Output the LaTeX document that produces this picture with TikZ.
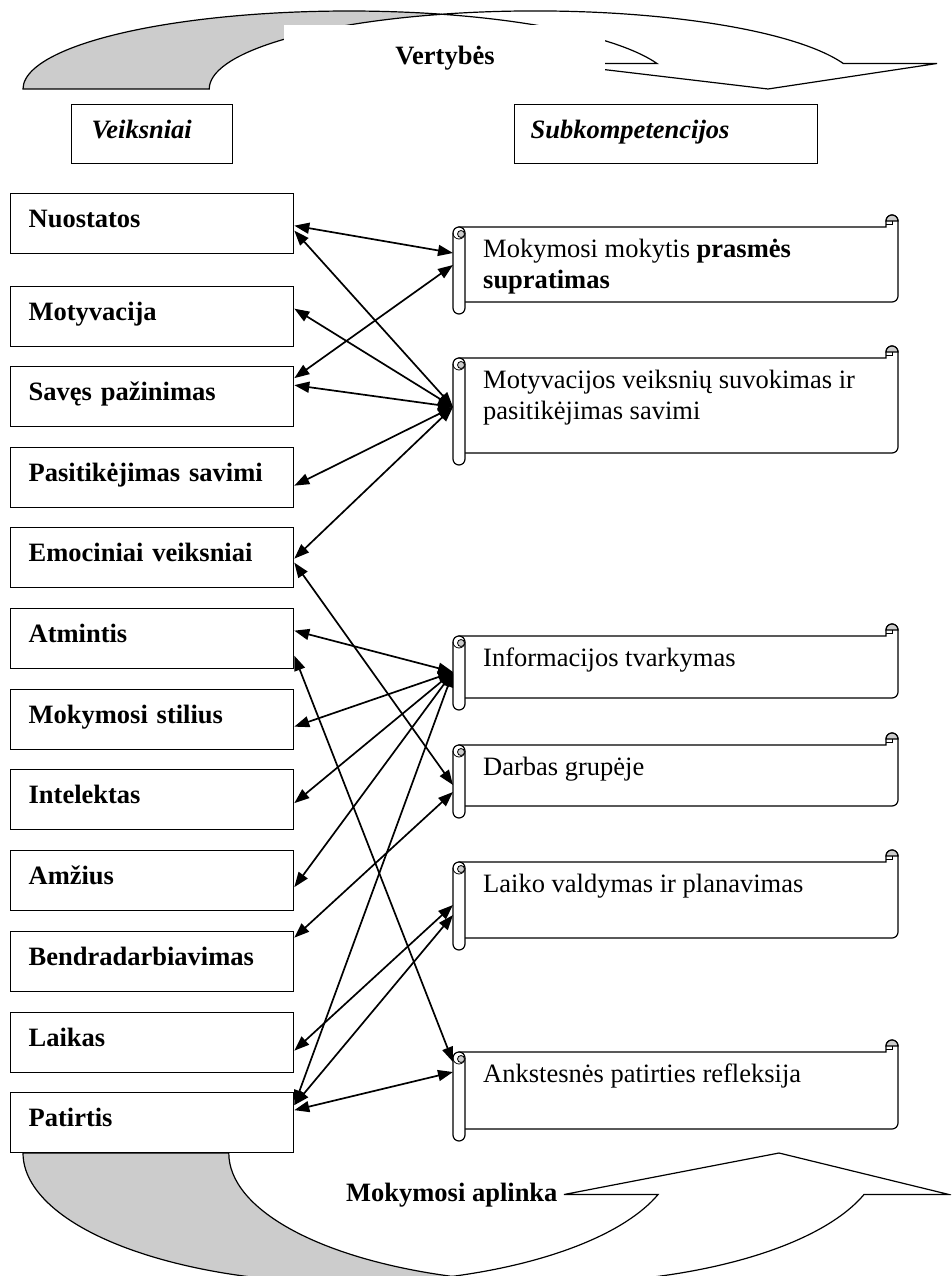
\documentclass[tikz,border=0pt]{standalone}
\usepackage{fontspec}
\setmainfont{Liberation Serif}
\usetikzlibrary{arrows.meta,calc}

\definecolor{rollgrey}{RGB}{204,204,204}

\tikzset{
  outline/.style={line width=1.2pt},
  lbox/.style={draw, line width=1.3pt, fill=white, anchor=north west,
    text width=247pt, inner xsep=18pt, inner ysep=0pt, minimum height=60pt,
    text height=18pt, text depth=10pt, align=left},
  hbox/.style={draw, line width=1.3pt, fill=white, anchor=north west,
    inner ysep=0pt, minimum height=59pt, text height=18pt, text depth=10pt, align=left},
  stext/.style={anchor=north west, inner sep=0pt, align=left},
  link/.style={line width=1.7pt,
    {Triangle[length=15pt,width=11pt]}-{Triangle[length=15pt,width=11pt]}},
}

% horizontal scroll: #1 name, #2 top edge, #3 bottom edge, #4 text
\newcommand\drawscroll[4]{%
  \draw[outline, fill=white] (459,#2) -- (886,#2) -- (886,{#2-6})
     arc[start angle=180, end angle=360, radius=6] -- (898,{#3-6})
     arc[start angle=0, end angle=90, radius=6] -- (459,#3) -- cycle;
  \draw[outline, fill=rollgrey] (886,{#2-6}) arc[start angle=180, end angle=360, radius=6] -- cycle;
  \draw[line width=0.8pt] (886,{#2-3}) -- (892,{#2-3}) -- (892,{#2-6});
  \draw[outline, fill=white] (453,{#2+6}) -- (453,{#3+6})
     arc[start angle=180, end angle=0, radius=6] -- (465,{#2+6})
     arc[start angle=0, end angle=-180, radius=6] -- cycle;
  \draw[line width=0.8pt] (465,{#2+6}) arc[start angle=0, end angle=180, radius=6];
  \draw[line width=0.8pt, fill=rollgrey] (461,{#2+7}) circle[radius=3.5];
  \coordinate (#1roll) at (453,#2);
  \node[stext] (#1) at (483,{#2+30-18.1}) {#4};
}

\begin{document}
\begin{tikzpicture}[x=1pt, y=-1pt,
  every node/.append style={font=\fontsize{26.5pt}{31pt}\selectfont}]
\useasboundingbox (0,0) rectangle (951,1276);
\clip (0,0) rectangle (951,1276);

% values band over the top, arrow pointing down
\draw[outline, fill=rollgrey] (23,89)
   arc[start angle=180, end angle=286.6, x radius=326, y radius=78]
   arc[start angle=253.4, end angle=180, x radius=326, y radius=78] -- cycle;
\draw[outline, fill=white] (442,14.2)
   arc[start angle=253.4, end angle=340.9, x radius=326, y radius=78]
   -- (937,63.5) -- (768,89) -- (553,63.5) -- (657,63.5)
   arc[start angle=340.9, end angle=286.6, x radius=326, y radius=78] -- cycle;
\fill[white] (284,25) rectangle (605,95);
\node[anchor=base] (vert) at (445,65) {\bfseries Vertybės};

% learning environment band underneath, arrow pointing up
\draw[outline, fill=rollgrey] (23,1153)
   arc[start angle=180, end angle=71.6, x radius=326, y radius=130]
   arc[start angle=108.4, end angle=180, x radius=326, y radius=130] -- cycle;
\draw[outline, fill=white] (452,1276.4)
   arc[start angle=71.6, end angle=18.6, x radius=326, y radius=130]
   -- (564,1194.5) -- (779,1153) -- (949,1194.5) -- (864,1194.5)
   arc[start angle=18.6, end angle=108.4, x radius=326, y radius=130] -- cycle;
\node[anchor=base east] (apl) at (561,1201) {\bfseries Mokymosi aplinka};

% column headers
\node[hbox, text width=121pt, inner xsep=20pt] (vei) at (71,104) {\bfseries\itshape Veiksniai};
\node[hbox, text width=271pt, inner xsep=16pt] (sub) at (514,104) {\bfseries\itshape Subkompetencijos};

% factors
\node[lbox] (nuo) at (10,193)  {\bfseries Nuostatos};
\node[lbox] (mot) at (10,286)  {\bfseries Motyvacija};
\node[lbox] (sav) at (10,366)  {\bfseries Savęs pažinimas};
\node[lbox] (pas) at (10,447)  {\bfseries Pasitikėjimas savimi};
\node[lbox] (emo) at (10,527)  {\bfseries Emociniai veiksniai};
\node[lbox] (atm) at (10,608)  {\bfseries Atmintis};
\node[lbox] (mok) at (10,689)  {\bfseries Mokymosi stilius};
\node[lbox] (int) at (10,769)  {\bfseries Intelektas};
\node[lbox] (amz) at (10,850)  {\bfseries Amžius};
\node[lbox] (ben) at (10,931)  {\bfseries Bendradarbiavimas};
\node[lbox] (lai) at (10,1012) {\bfseries Laikas};
\node[lbox] (pat) at (10,1092) {\bfseries Patirtis};

% sub-competences
\drawscroll{s1}{227}{302}{Mokymosi mokytis \textbf{prasmės}\\\textbf{supratimas}}
\drawscroll{s2}{358}{453}{Motyvacijos veiksnių suvokimas ir\\pasitikėjimas savimi}
\drawscroll{s3}{636}{698}{Informacijos tvarkymas}
\drawscroll{s4}{745}{806}{Darbas grupėje}
\drawscroll{s5}{862}{938}{Laiko valdymas ir planavimas}
\drawscroll{s6}{1052}{1129}{Ankstesnės patirties refleksija}

% links between factors and sub-competences
\draw[link] ($(nuo.east)+(0,2)$)     -- ($(s1roll)+(0,26)$);
\draw[link] ($(nuo.east)+(0,7)$)     -- ($(s2roll)+(0,49)$);
\draw[link] ($(mot.east)+(0,-8)$)    -- ($(s2roll)+(0,49)$);
\draw[link] ($(sav.east)+(0,-18.5)$) -- ($(s1roll)+(0,38)$);
\draw[link] ($(sav.east)+(0,-11.5)$) -- ($(s2roll)+(0,49)$);
\draw[link] ($(pas.east)+(0,8)$)     -- ($(s2roll)+(0,49)$);
\draw[link] ($(emo.east)+(0,1)$)     -- ($(s2roll)+(0,49)$);
\draw[link] ($(emo.east)+(0,5)$)     -- ($(s4roll)+(0,40)$);
\draw[link] ($(atm.east)+(0,-8)$)    -- ($(s3roll)+(0,36)$);
\draw[link] ($(atm.east)+(0,17)$)    -- ($(s6roll)+(0,10)$);
\draw[link] ($(mok.east)+(0,7)$)     -- ($(s3roll)+(0,36)$);
\draw[link] ($(int.east)+(0,3.5)$)   -- ($(s3roll)+(0,36)$);
\draw[link] ($(amz.east)+(0,6.5)$)   -- ($(s3roll)+(0,36)$);
\draw[link] ($(ben.east)+(0,-24)$)   -- ($(s4roll)+(0,47)$);
\draw[link] ($(lai.east)+(0,8)$)     -- ($(s5roll)+(0,43)$);
\draw[link] ($(pat.east)+(0,-17.5)$) -- ($(s5roll)+(0,53)$);
\draw[link] ($(pat.east)+(0,-17.5)$) -- ($(s3roll)+(0,36)$);
\draw[link] ($(pat.east)+(0,-12.5)$) -- ($(s6roll)+(0,20)$);
\end{tikzpicture}
\end{document}
